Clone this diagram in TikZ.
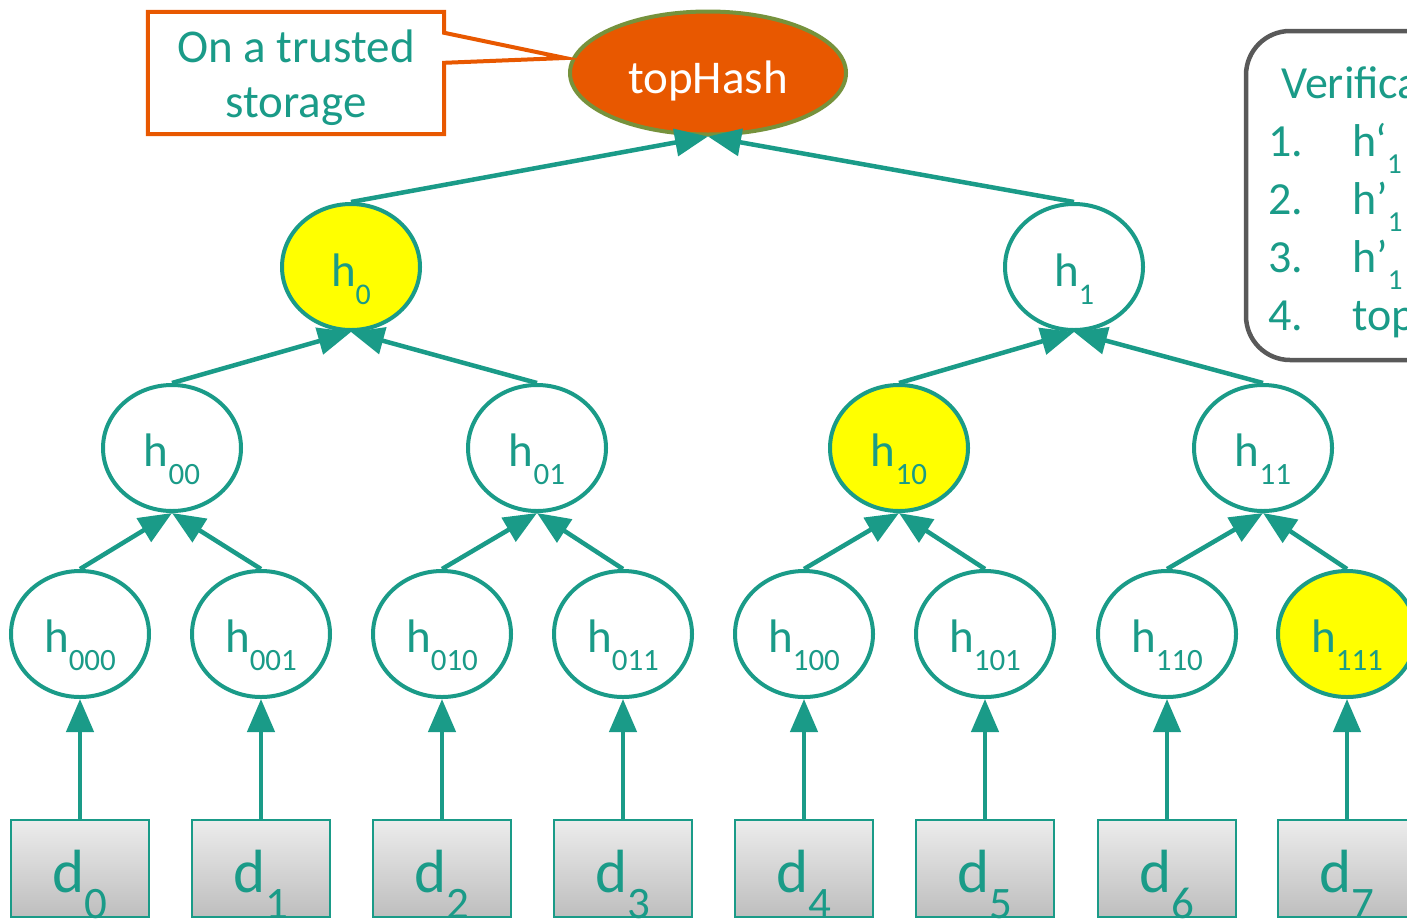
\documentclass[tikz,border=0pt]{standalone}
\usepackage{fontspec}
\setmainfont{Carlito}
\usetikzlibrary{arrows.meta,shapes.geometric}
\definecolor{teal1}{RGB}{26,155,136}
\definecolor{orng}{RGB}{232,88,0}
\definecolor{olive1}{RGB}{118,146,60}
\definecolor{yel}{RGB}{255,255,0}
\definecolor{gbord}{RGB}{89,89,89}
\definecolor{dtop}{RGB}{236,236,236}
\definecolor{dbot}{RGB}{190,190,190}
\newcommand{\hsub}[2]{h\raisebox{-18pt}{\fontsize{#2}{#2}\selectfont #1}}
\newcommand{\dsub}[1]{d\raisebox{-26pt}{\fontsize{45}{45}\selectfont #1}}
\newcommand{\vsub}[1]{\raisebox{-17pt}{\fontsize{29}{29}\selectfont #1}}
\tikzset{
  hnode/.style={ellipse, draw=teal1, line width=4pt, minimum width=138pt, minimum height=126pt,
    inner sep=0pt, fill=white, text=teal1, font=\fontsize{47}{50}\selectfont,
    text height=36pt, text depth=0pt},
  hyel/.style={hnode, fill=yel},
  dbox/.style={rectangle, draw=teal1, line width=1.5pt, minimum width=138pt, minimum height=97pt,
    inner sep=0pt, top color=dtop, bottom color=dbot, text=teal1,
    font=\fontsize{61}{61}\selectfont, text height=48pt, text depth=0pt},
  arr/.style={draw=teal1, line width=4.5pt, -{Triangle[length=33pt,width=27pt]}},
  tealtxt/.style={text=teal1, inner sep=0pt, anchor=base west, font=\fontsize{46}{50}\selectfont},
}
\begin{document}
\begin{tikzpicture}[x=1pt,y=-1pt]
\useasboundingbox (0,0) rectangle (1407,919);
\clip (0,0) rectangle (1407,919);
\fill[white] (0,0) rectangle (1407,919);

% top hash
\node[ellipse, draw=olive1, fill=orng, line width=4pt, minimum width=276pt, minimum height=123pt,
  inner sep=0pt, text=white, font=\fontsize{47}{50}\selectfont, text height=40pt, text depth=0pt]
  (top) at (708,73) {topHash};

% callout
\node[rectangle, minimum width=296pt, minimum height=122pt, inner sep=0pt] (callout) at (296,73) {};
\coordinate (tip) at (565,58);
\draw[orng, line width=4pt, line join=miter]
  (callout.north west) -- (callout.north east) -- ([yshift=-21pt]callout.north east) -- (tip)
  -- ([yshift=-51pt]callout.north east) -- (callout.south east) -- (callout.south west) -- cycle;
\node[anchor=base, inner sep=0pt, text=teal1, font=\fontsize{47}{50}\selectfont] (cl1) at (296,62) {On a trusted};
\node[anchor=base, inner sep=0pt, text=teal1, font=\fontsize{47}{50}\selectfont] (cl2) at (296,117) {storage};

% level 1
\node[hyel, text height=38pt] (h0) at (351,267) {\hsub{0}{30}};
\node[hnode, text height=38pt] (h1) at (1074,267) {\hsub{1}{30}};

% level 2
\node[hnode] (h00) at (172,448) {\hsub{00}{31}};
\node[hnode] (h01) at (537,448) {\hsub{01}{31}};
\node[hyel]  (h10) at (899,448) {\hsub{10}{31}};
\node[hnode] (h11) at (1263,448) {\hsub{11}{31}};

% leaves
\node[hnode] (h000) at (80,634) {\hsub{000}{31}};
\node[hnode] (h001) at (261,634) {\hsub{001}{31}};
\node[hnode] (h010) at (442,634) {\hsub{010}{31}};
\node[hnode] (h011) at (623,634) {\hsub{011}{31}};
\node[hnode] (h100) at (804,634) {\hsub{100}{31}};
\node[hnode] (h101) at (985,634) {\hsub{101}{31}};
\node[hnode] (h110) at (1167,634) {\hsub{110}{31}};
\node[hyel]  (h111) at (1347,634) {\hsub{111}{31}};

% data blocks
\node[dbox] (d0) at (80,868.5) {\dsub{0}};
\node[dbox] (d1) at (261,868.5) {\dsub{1}};
\node[dbox] (d2) at (442,868.5) {\dsub{2}};
\node[dbox] (d3) at (623,868.5) {\dsub{3}};
\node[dbox] (d4) at (804,868.5) {\dsub{4}};
\node[dbox] (d5) at (985,868.5) {\dsub{5}};
\node[dbox] (d6) at (1167,868.5) {\dsub{6}};
\node[dbox] (d7) at (1347,868.5) {\dsub{7}};

% edges
\foreach \d/\h in {d0/h000,d1/h001,d2/h010,d3/h011,d4/h100,d5/h101,d6/h110,d7/h111}
  \draw[arr] (\d.north) -- (\h.south);
\foreach \c/\p in {h000/h00,h001/h00,h010/h01,h011/h01,h100/h10,h101/h10,h110/h11,h111/h11,
                   h00/h0,h01/h0,h10/h1,h11/h1,h0/top,h1/top}
  \draw[arr] (\c.north) -- (\p.south);

% verification box
\draw[gbord, line width=4.5pt, rounded corners=44pt] (1246,31) rectangle (1500,360);
\node[tealtxt] (vt) at (1281,98) {Verifica};
\node[tealtxt] (n1) at (1268,156) {1.};
\node[tealtxt] (n2) at (1268,214) {2.};
\node[tealtxt] (n3) at (1268,272) {3.};
\node[tealtxt] (n4) at (1268,330) {4.};
\node[tealtxt] (t1) at (1352,156) {h‘\vsub{1}};
\node[tealtxt] (t2) at (1352,214) {h’\vsub{1}};
\node[tealtxt] (t3) at (1352,272) {h’\vsub{1}};
\node[tealtxt] (t4) at (1352,330) {top};
\end{tikzpicture}
\end{document}
